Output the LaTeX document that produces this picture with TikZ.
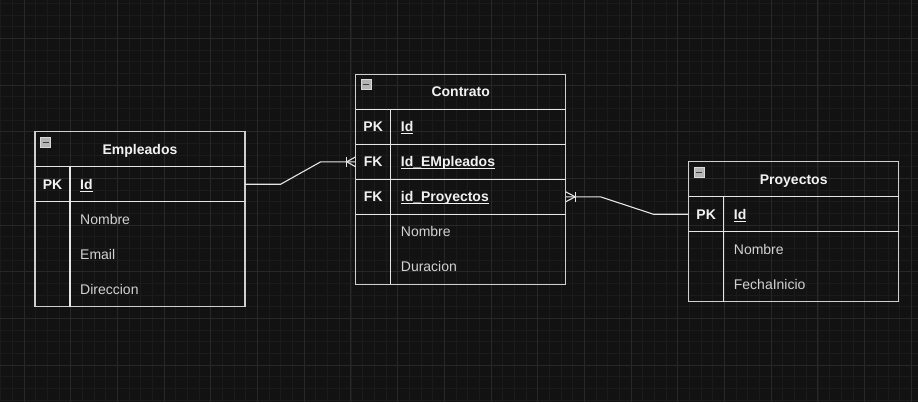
\documentclass[tikz,border=0pt]{standalone}
\usepackage{fontspec}
\setmainfont{Liberation Sans}
\usetikzlibrary{calc}
\definecolor{bg}{HTML}{121212}
\definecolor{gridminor}{HTML}{1B1B1B}
\definecolor{gridmajor}{HTML}{282828}
\definecolor{boxc}{HTML}{CFCFCF}
\definecolor{sepc}{HTML}{E6E6E6}
\definecolor{txtw}{HTML}{F2F2F2}
\definecolor{txtg}{HTML}{D2D2D2}
\definecolor{iconc}{HTML}{B4B4B4}
\newcommand\fieldul[1]{\setbox0\hbox{#1}\rlap{\rule[-2.4bp]{\wd0}{1.1bp}}\box0}
\begin{document}
\begin{tikzpicture}[x=1bp,y=-1bp,
  minorln/.style={gridminor,line width=0.8bp},
  majorln/.style={gridmajor,line width=0.9bp},
  rowbox/.style={draw=none,minimum width=210bp,minimum height=35bp,inner sep=0pt,outer sep=0pt,anchor=north west},
  tbl/.style={draw=boxc,line width=1.2bp},
  sep/.style={draw=sepc,line width=1.2bp},
  hdr/.style={inner sep=0pt,anchor=base,text=txtw,font=\fontsize{14bp}{16bp}\selectfont\bfseries},
  keyt/.style={inner sep=0pt,anchor=base,text=txtw,font=\fontsize{14bp}{16bp}\selectfont\bfseries},
  keyf/.style={inner sep=0pt,anchor=base west,text=txtw,font=\fontsize{14bp}{16bp}\selectfont\bfseries},
  attr/.style={inner sep=0pt,anchor=base west,text=txtg,font=\fontsize{14bp}{16bp}\selectfont},
  icon/.style={draw=boxc!80!white,fill=iconc,line width=0.8bp},
  conn/.style={draw=sepc,line width=1.1bp}]
\useasboundingbox (0,0) rectangle (918,402);
\fill[bg] (0,0) rectangle (918,402);
% grid
\foreach \k in {-2,...,76} {\pgfmathsetmacro\xx{24+\k*11.675}\draw[minorln] (\xx,0) -- (\xx,402);}
\foreach \k in {-3,...,31} {\pgfmathsetmacro\yy{38.3+\k*11.675}\draw[minorln] (0,\yy) -- (918,\yy);}
\foreach \k in {0,...,19} {\pgfmathsetmacro\xx{24+\k*46.7}\draw[majorln] (\xx,0) -- (\xx,402);}
\foreach \k in {0,...,7} {\pgfmathsetmacro\yy{38.3+\k*46.7}\draw[majorln] (0,\yy) -- (918,\yy);}

% ---------- Empleados ----------
\node[rowbox] (empH) at (35,131.7) {};
\node[rowbox] (empPK) at (empH.south west) {};
\node[rowbox] (empR1) at (empPK.south west) {};
\node[rowbox] (empR2) at (empR1.south west) {};
\node[rowbox] (empR3) at (empR2.south west) {};
\draw[tbl] (empH.north west) rectangle (empR3.south east);
\draw[sep] (empH.south west) -- (empH.south east);
\draw[sep] (empPK.south west) -- (empPK.south east);
\draw[sep] ($(empPK.north west)+(35,0)$) -- ($(empR3.south west)+(35,0)$);
\draw[icon] ($(empH.north west)+(5.5,5.5)$) rectangle ++(10,10);
\draw[black!75,line width=1.2bp] ($(empH.north west)+(7.5,10.5)$) -- ++(6,0);
\node[hdr] (empHt) at ($(empH.center)+(0,5)$) {Empleados};
\node[keyt] (empPKk) at ($(empPK.west)+(17.5,5)$) {PK};
\node[keyf] (empPKf) at ($(empPK.west)+(45,5)$) {\fieldul{Id}};
\node[attr] (empR1t) at ($(empR1.west)+(45,5)$) {Nombre};
\node[attr] (empR2t) at ($(empR2.west)+(45,5)$) {Email};
\node[attr] (empR3t) at ($(empR3.west)+(45,5)$) {Direccion};

% ---------- Contrato ----------
\node[rowbox] (ctH) at (355.7,74.3) {};
\node[rowbox] (ctPK) at (ctH.south west) {};
\node[rowbox] (ctFK1) at (ctPK.south west) {};
\node[rowbox] (ctFK2) at (ctFK1.south west) {};
\node[rowbox] (ctR1) at (ctFK2.south west) {};
\node[rowbox] (ctR2) at (ctR1.south west) {};
\draw[tbl] (ctH.north west) rectangle (ctR2.south east);
\draw[sep] (ctH.south west) -- (ctH.south east);
\draw[sep] (ctPK.south west) -- (ctPK.south east);
\draw[sep] (ctFK1.south west) -- (ctFK1.south east);
\draw[sep] (ctFK2.south west) -- (ctFK2.south east);
\draw[sep] ($(ctPK.north west)+(35,0)$) -- ($(ctR2.south west)+(35,0)$);
\draw[icon] ($(ctH.north west)+(5.5,5.5)$) rectangle ++(10,10);
\draw[black!75,line width=1.2bp] ($(ctH.north west)+(7.5,10.5)$) -- ++(6,0);
\node[hdr] (ctHt) at ($(ctH.center)+(0,5)$) {Contrato};
\node[keyt] (ctPKk) at ($(ctPK.west)+(17.5,5)$) {PK};
\node[keyf] (ctPKf) at ($(ctPK.west)+(45,5)$) {\fieldul{Id}};
\node[keyt] (ctFK1k) at ($(ctFK1.west)+(17.5,5)$) {FK};
\node[keyf] (ctFK1f) at ($(ctFK1.west)+(45,5)$) {\fieldul{Id\_EMpleados}};
\node[keyt] (ctFK2k) at ($(ctFK2.west)+(17.5,5)$) {FK};
\node[keyf] (ctFK2f) at ($(ctFK2.west)+(45,5)$) {\fieldul{id\_Proyectos}};
\node[attr] (ctR1t) at ($(ctR1.west)+(45,5)$) {Nombre};
\node[attr] (ctR2t) at ($(ctR2.west)+(45,5)$) {Duracion};

% ---------- Proyectos ----------
\node[rowbox] (prH) at (688.7,161.7) {};
\node[rowbox] (prPK) at (prH.south west) {};
\node[rowbox] (prR1) at (prPK.south west) {};
\node[rowbox] (prR2) at (prR1.south west) {};
\draw[tbl] (prH.north west) rectangle (prR2.south east);
\draw[sep] (prH.south west) -- (prH.south east);
\draw[sep] (prPK.south west) -- (prPK.south east);
\draw[sep] ($(prPK.north west)+(35,0)$) -- ($(prR2.south west)+(35,0)$);
\draw[icon] ($(prH.north west)+(5.5,5.5)$) rectangle ++(10,10);
\draw[black!75,line width=1.2bp] ($(prH.north west)+(7.5,10.5)$) -- ++(6,0);
\node[hdr] (prHt) at ($(prH.center)+(0,5)$) {Proyectos};
\node[keyt] (prPKk) at ($(prPK.west)+(17.5,5)$) {PK};
\node[keyf] (prPKf) at ($(prPK.west)+(45,5)$) {\fieldul{Id}};
\node[attr] (prR1t) at ($(prR1.west)+(45,5)$) {Nombre};
\node[attr] (prR2t) at ($(prR2.west)+(45,5)$) {FechaInicio};

% ---------- connectors ----------
\draw[conn] (empPK.east) -- ++(35.7,0) -- ($(ctFK1.west)+(-35,0)$) -- (ctFK1.west);
\draw[conn] ($(ctFK1.west)+(-9,-4.8)$) -- ($(ctFK1.west)+(-9,4.8)$);
\draw[conn] ($(ctFK1.west)+(0,-5)$) -- ($(ctFK1.west)+(-9,0)$) -- ($(ctFK1.west)+(0,5)$);

\draw[conn] (ctFK2.east) -- ++(34.7,0) -- ($(prPK.west)+(-35.4,0)$) -- (prPK.west);
\draw[conn] ($(ctFK2.east)+(9.5,-4.8)$) -- ($(ctFK2.east)+(9.5,4.8)$);
\draw[conn] ($(ctFK2.east)+(0,-5)$) -- ($(ctFK2.east)+(9.5,0)$) -- ($(ctFK2.east)+(0,5)$);
\end{tikzpicture}
\end{document}
